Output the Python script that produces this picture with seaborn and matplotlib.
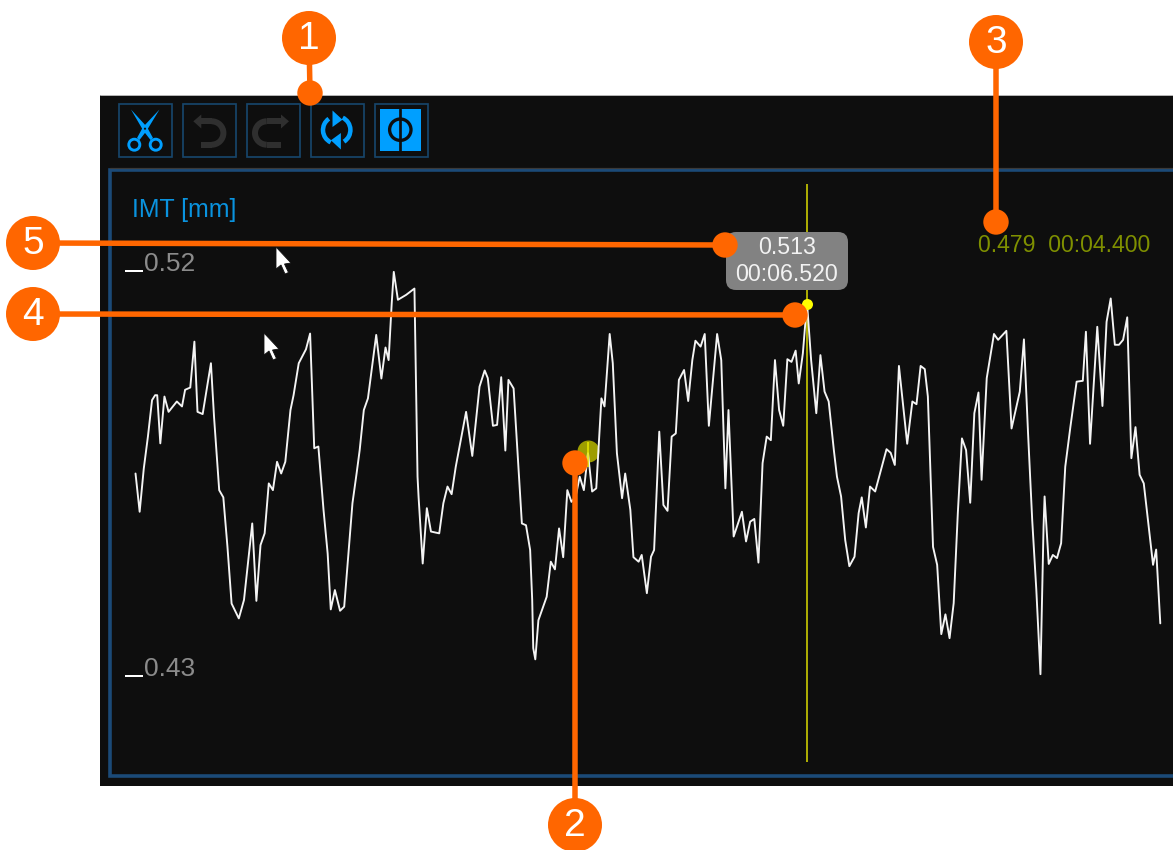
import matplotlib
matplotlib.use("Agg")
import numpy as np
import matplotlib.pyplot as plt
import seaborn as sns
from matplotlib.patches import Rectangle, Circle, FancyBboxPatch, Polygon, Arc

time_s = [0.02,0.06,0.10,0.14,0.18,0.21,0.23,0.26,0.30,0.34,0.42,0.47,0.50,0.55,0.59,0.62,0.67,0.75,0.78,0.83,
0.87,0.91,0.95,1.02,1.07,1.15,1.19,1.23,1.27,1.31,1.35,1.39,1.43,1.47,1.52,1.55,1.60,1.67,1.71,1.75,
1.79,1.84,1.88,1.91,1.95,2.00,2.04,2.12,2.16,2.19,2.23,2.27,2.35,2.40,2.44,2.47,2.50,2.52,2.56,2.64,
2.72,2.75,2.76,2.79,2.80,2.84,2.88,2.96,3.00,3.04,3.08,3.12,3.22,3.28,3.35,3.40,3.43,3.48,3.52,3.56,
3.60,3.63,3.68,3.72,3.76,3.80,3.84,3.86,3.87,3.89,3.92,4.00,4.04,4.08,4.12,4.16,4.20,4.24,4.28,4.32,
4.36,4.40,4.44,4.48,4.53,4.56,4.61,4.64,4.68,4.73,4.76,4.81,4.84,4.89,4.92,4.97,5.01,5.04,5.09,5.13,
5.17,5.21,5.25,5.28,5.33,5.37,5.41,5.44,5.49,5.53,5.57,5.65,5.69,5.73,5.76,5.81,5.89,5.93,5.97,6.01,
6.05,6.09,6.13,6.17,6.21,6.25,6.29,6.33,6.37,6.41,6.44,6.48,6.52,6.56,6.61,6.65,6.69,6.73,6.78,6.81,
6.85,6.89,6.93,6.98,7.02,7.05,7.09,7.13,7.18,7.29,7.33,7.37,7.41,7.49,7.54,7.58,7.62,7.66,7.69,7.74,
7.78,7.82,7.86,7.90,7.94,7.98,8.02,8.06,8.10,8.14,8.18,8.21,8.26,8.33,8.37,8.45,8.50,8.58,8.62,8.66,
8.70,8.74,8.78,8.81,8.82,8.86,8.90,8.94,8.98,9.02,9.07,9.13,9.19,9.22,9.26,9.33,9.38,9.42,9.46,9.50,
9.54,9.58,9.62,9.66,9.70,9.74,9.78,9.87,9.90,9.94]

imt_mm = [.4750,.4665,.4761,.4832,.4913,.4924,.4924,.4817,.4921,.4887,.4910,.4899,.4936,.4941,.5043,.4887,.4882,.4995,.4876,.4713,
.4697,.4587,.4461,.4428,.4469,.4639,.4467,.4591,.4617,.4728,.4713,.4776,.4750,.4776,.4891,.4924,.4995,.5026,.5061,.4806,
.4810,.4669,.4572,.4448,.4491,.4445,.4454,.4684,.4750,.4802,.4891,.4917,.5058,.4961,.5030,.5002,.5128,.5198,.5136,.5147,
.5161,.4743,.4698,.4587,.4550,.4673,.4621,.4617,.4684,.4721,.4704,.4765,.4887,.4789,.4943,.4979,.4962,.4856,.4858,.4964,
.4801,.4958,.4939,.4787,.4639,.4635,.4580,.4469,.4362,.4337,.4424,.4476,.4554,.4537,.4628,.4564,.4713,.4687,.4698,.4743,
.4713,.4795,.4710,.4717,.4917,.4899,.5060,.4995,.4795,.4695,.4750,.4669,.4564,.4554,.4569,.4484,.4565,.4580,.4843,.4680,
.4667,.4832,.4839,.4958,.4980,.4911,.5002,.5045,.5032,.5060,.4856,.5060,.5002,.4717,.4891,.4610,.4665,.4599,.4643,.4649,
.4552,.4773,.4832,.4824,.5002,.4891,.4856,.5004,.4998,.5023,.4950,.5017,.5130,.5002,.4884,.5013,.4932,.4910,.4802,.4743,
.4699,.4602,.4544,.4565,.4662,.4697,.4630,.4721,.4710,.4804,.4796,.4769,.4989,.4816,.4910,.4904,.4989,.4982,.4921,.4587,
.4547,.4393,.4437,.4384,.4462,.4662,.4828,.4802,.4685,.4884,.4930,.4736,.4962,.5060,.5047,.5067,.4850,.4932,.5048,.4839,
.4647,.4491,.4304,.4632,.4699,.4549,.4569,.4562,.4595,.4765,.4854,.4954,.4956,.5065,.4816,.5076,.4900,.5087,.5139,.5036,
.5036,.5047,.5097,.4784,.4853,.4747,.4728,.4547,.4581,.4417]

y_ticks = [0.52, 0.43]
y_title = "IMT [mm]"
cursor_a_time, cursor_a_value, cursor_a_label = 4.40, 0.480, "0.479  00:04.400"
cursor_b_time, cursor_b_value = 6.52, 0.5127
cursor_b_label = "0.513\n00:06.520"
callouts = ["1", "2", "3", "4", "5"]

W, H = 1173, 850
FONT = "Liberation Sans"
sns.set_theme(style="dark", rc={"axes.grid": False})
plt.rcParams["font.family"] = [FONT, "DejaVu Sans"]
ORANGE = "#ff6600"
BLUE = "#009fff"
EDGE = "#17466b"
px = 0.72  # points per pixel

fig = plt.figure(figsize=(W / 100, H / 100), dpi=100, facecolor="white")

def pixel_axes(z):
    a = fig.add_axes([0, 0, 1, 1], zorder=z)
    a.set_xlim(0, W)
    a.set_ylim(H, 0)
    a.axis("off")
    a.patch.set_alpha(0)
    return a

base = pixel_axes(0)
over = pixel_axes(2)

# dark application window, panel
base.add_patch(Rectangle((100, 95), W - 100, 691, fc="#0e0e0e", ec="none"))
base.plot([100, W], [94.5, 94.5], color="#b5b5b5", lw=1 * px)
base.plot([110, W], [167.5, 167.5], color="#3a3a3a", lw=1.2 * px)
base.add_patch(Rectangle((110, 170), W - 108, 606, fc="#0e0e0e", ec="#1b4a78", lw=3.6 * px))

# toolbar buttons
for x0 in [118.5, 182.5, 246.5, 310.5, 374.5]:
    base.add_patch(Rectangle((x0, 103.5), 53, 53, fc="none", ec=EDGE, lw=1.7 * px))

# scissors
for xc in (134.3, 155.7):
    base.add_patch(Circle((xc, 144.7), 5.5, fc="none", ec=BLUE, lw=2.9 * px))
base.add_patch(Polygon([(131, 109.5), (147, 127), (153, 138), (150.5, 140), (143.5, 131)], fc=BLUE, ec="none"))
base.add_patch(Polygon([(159.5, 109.5), (143, 127), (137, 138), (139.5, 140), (146.5, 131)], fc=BLUE, ec="none"))
base.add_patch(Circle((145, 128.7), 1.1, fc="#0e0e0e", ec="none", zorder=5))

# undo / redo
GR = "#2f2f2f"
for sign, cx, tip in ((1, 211.7, 193.3), (-1, 266.7, 289.0)):
    base.plot([cx, cx - sign * 14], [121.3, 121.3], color=GR, lw=6 * px, solid_capstyle="butt")
    base.plot([cx, cx - sign * 11 if sign == 1 else cx + 14], [144.7, 144.7], color=GR, lw=6 * px,
              solid_capstyle="butt")
    base.add_patch(Arc((cx, 133), 23.4, 23.4, theta1=-90 if sign == 1 else 90,
                       theta2=90 if sign == 1 else 270, color=GR, lw=6 * px))
    base.add_patch(Polygon([(tip, 121.3), (tip + sign * 8, 114.5), (tip + sign * 8, 128.5)], fc=GR, ec="none"))

# refresh
base.add_patch(Arc((336.7, 130), 27.4, 27.4, theta1=116, theta2=235, color=BLUE, lw=4.5 * px))
base.add_patch(Arc((336.7, 130), 27.4, 27.4, theta1=-64, theta2=58, color=BLUE, lw=4.5 * px))
base.add_patch(Polygon([(332.5, 110.5), (342.5, 119.7), (332.5, 127)], fc=BLUE, ec="none"))
base.add_patch(Polygon([(340.9, 149.5), (330.9, 140.3), (340.9, 133)], fc=BLUE, ec="none"))

# phi button
base.add_patch(Rectangle((380, 108.7), 41, 42, fc=BLUE, ec="none"))
base.plot([400.3, 400.3], [108.7, 150.7], color="#0e0e0e", lw=2.7 * px)
base.add_patch(Circle((400.3, 129.7), 10.7, fc="none", ec="#0e0e0e", lw=3.3 * px))

# data axes mapped on the panel
ax = fig.add_axes([110 / W, 1 - 776 / H, (W - 110) / W, 606 / H], zorder=1)
ax.patch.set_alpha(0)
ax.set_xlim(-0.227, 10.063)
ax.set_ylim(0.40778, 0.54244)
for s in ax.spines.values():
    s.set_visible(False)

sns.lineplot(x=time_s, y=imt_mm, ax=ax, color="#f4f4f4", lw=1.9 * px, sort=False,
             estimator=None, errorbar=None, zorder=3)
ax.set_xlabel("")
ax.set_ylabel("")
ax.set_xticks([])
ax.set_yticks([])

ax.vlines(cursor_b_time, 0.4109, 0.5393, color="#e0e000", lw=1.5 * px, zorder=2)
ax.scatter([cursor_a_time], [cursor_a_value], s=(22 * px) ** 2, color="#a6a600", alpha=0.95, lw=0, zorder=2)
ax.vlines(cursor_a_time, 0.4765, 0.4820, color="#e6e600", lw=1.6 * px, zorder=4)
ax.scatter([cursor_b_time], [cursor_b_value], s=(11 * px) ** 2, color="#ffff00", lw=0, zorder=4)

# y tick marks and labels
trans = ax.get_yaxis_transform()
for v in y_ticks:
    ax.hlines(v, 15 / (W - 110), 33 / (W - 110), transform=trans, color="white", lw=2 * px)
    ax.text(34 / (W - 110), v, f"{v:.2f}", transform=trans, color="#8b8b8b", fontsize=19,
            va="baseline", ha="left", family=FONT)

base.text(132, 216.5, y_title, color="#0a93df", fontsize=17.9, va="baseline", ha="left", family=FONT)
base.text(978, 251.5, cursor_a_label, color="#7f9000", fontsize=16.6, va="baseline", ha="left", family=FONT)

# tooltip
over.add_patch(FancyBboxPatch((736, 242), 102, 38, boxstyle="round,pad=10,rounding_size=10",
                              fc="#828282", ec="none", zorder=1))
over.text(787, 261, cursor_b_label, color="#f2f2f2", fontsize=16.7, va="center", ha="center",
          linespacing=1.2, family=FONT, zorder=2)

# pointer cursors
def pointer(x, y):
    pts = [(0, 0), (0, 22), (5, 18), (9, 27), (12.5, 25.5), (8.5, 17), (15, 16)]
    over.add_patch(Polygon([(x + a, y + b) for a, b in pts], fc="white", ec="#111111", lw=0.6, zorder=1))

pointer(276, 247)
pointer(264, 333)

# callouts
lines = [((309, 38), (310, 93)), ((575, 825), (575, 463)), ((996, 42), (996, 222)),
         ((33, 314), (795, 315)), ((33, 243), (725, 245))]
for label, (big, small) in zip(callouts, lines):
    over.plot([big[0], small[0]], [big[1], small[1]], color=ORANGE, lw=5.5 * px, zorder=3,
              solid_capstyle="butt")
    over.add_patch(Circle(big, 27, fc=ORANGE, ec="none", zorder=4))
    over.add_patch(Circle(small, 12.7, fc=ORANGE, ec="none", zorder=4))
    over.text(big[0], big[1] + 1, label, color="white", fontsize=28, ha="center", va="center",
              family=FONT, zorder=5)

fig.savefig("out.png", dpi=100)
